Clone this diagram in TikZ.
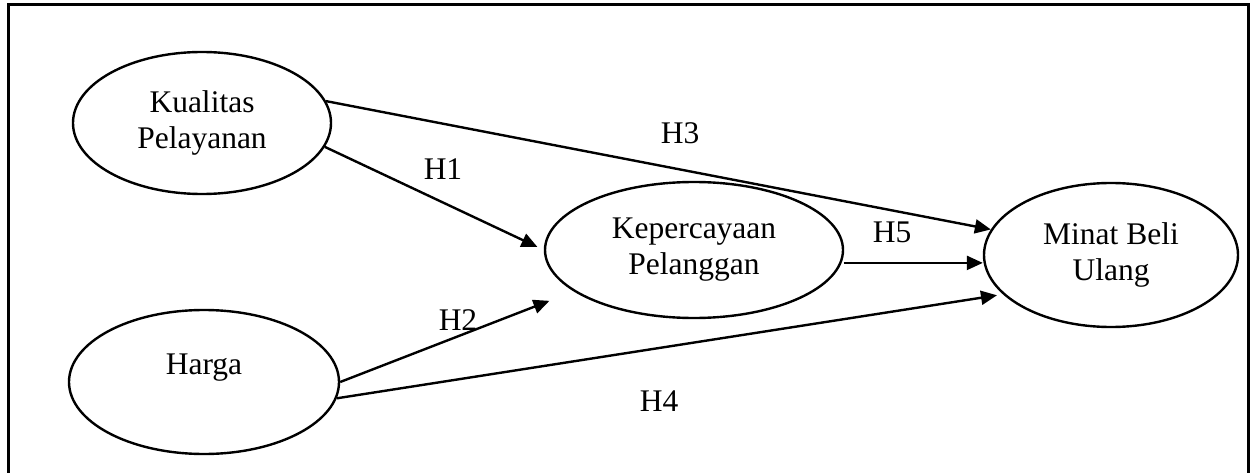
\documentclass[tikz,border=0pt]{standalone}
\usepackage{fontspec}
\setmainfont{Liberation Serif}
\usetikzlibrary{arrows.meta,shapes.geometric}
\begin{document}
\begin{tikzpicture}[x=1pt,y=-1pt,
  every node/.style={font=\fontsize{31.5}{36}\selectfont},
  var/.style={draw,ellipse,line width=2.4pt,inner sep=0pt,align=center},
  hyp/.style={line width=2.4pt,-{Triangle[length=16pt,width=14pt]}},
  lab/.style={anchor=base,inner sep=0pt}]
\useasboundingbox (0,0) rectangle (1255,473);
\draw[line width=3pt] (8,5) rectangle (1248,490);
\node[var,minimum width=258pt,minimum height=142pt] (kp) at (202,123) {Kualitas\\Pelayanan};
\node[var,minimum width=270pt,minimum height=144pt] (hg) at (204,382) {Harga\\~};
\node[var,minimum width=298pt,minimum height=136pt] (kep) at (694,250) {Kepercayaan\\Pelanggan};
\node[var,minimum width=254pt,minimum height=144pt] (mb) at (1111,255) {Minat Beli\\Ulang};
\draw[hyp] (kp.10) -- (mb.168);
\draw[hyp,shorten >=7pt] (kp.-11) -- (kep.west);
\draw[hyp,shorten >=26pt] (hg.0) -- (kep.199);
\draw[hyp,shorten >=6pt] (hg.-7) -- (mb.200);
\draw[hyp,shorten <=2pt] (kep.-5) -- (kep.-5 -| mb.west);
\node[lab] (h3) at (680,144) {H3};
\node[lab] (h1) at (443,180) {H1};
\node[lab] (h5) at (892,242) {H5};
\node[lab] (h2) at (458,330) {H2};
\node[lab] (h4) at (659,411) {H4};
\end{tikzpicture}
\end{document}
